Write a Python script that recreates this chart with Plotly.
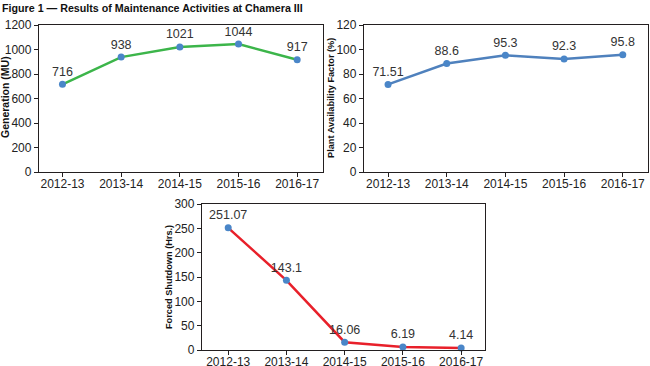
import plotly.graph_objects as go

categories = ["2012-13", "2013-14", "2014-15", "2015-16", "2016-17"]
generation = [716, 938, 1021, 1044, 917]
generation_labels = ["716", "938", "1021", "1044", "917"]
availability = [71.51, 88.6, 95.3, 92.3, 95.8]
availability_labels = ["71.51", "88.6", "95.3", "92.3", "95.8"]
shutdown = [251.07, 143.1, 16.06, 6.19, 4.14]
shutdown_labels = ["251.07", "143.1", "16.06", "6.19", "4.14"]

W, H = 650, 366
marker_color = "#4a86c8"
axis_color = "#231f20"
font_fam = "Liberation Sans, Arial, Helvetica, sans-serif"
bold_fam = "Liberation Sans, Arial, Helvetica, sans-serif"

fig = go.Figure()

def add_series(y, labels, color, xa, ya):
    fig.add_trace(go.Scatter(
        x=categories, y=y, mode="lines+markers+text",
        text=labels, textposition="top center",
        textfont=dict(family=font_fam, size=12.5, color="#333333"),
        line=dict(color=color, width=2.5),
        marker=dict(color=marker_color, size=7),
        xaxis=xa, yaxis=ya, showlegend=False, cliponaxis=False,
        hoverinfo="x+y",
    ))

add_series(generation, generation_labels, "#3cb54a", "x", "y")
add_series(availability, availability_labels, "#4f81bd", "x2", "y2")
add_series(shutdown, shutdown_labels, "#e8202a", "x3", "y3")

def px_x(a, b):
    return [a / W, b / W]

def px_y(top, bottom):
    return [1 - bottom / H, 1 - top / H]

common_x = dict(type="category", showline=True, linecolor=axis_color, linewidth=1.3,
                mirror=True, ticks="outside", ticklen=4, tickcolor=axis_color,
                showgrid=False, zeroline=False, automargin=False,
                ticklabelstandoff=-4,
                tickfont=dict(family=font_fam, size=12, color="#222222"))
common_y = dict(showline=True, linecolor=axis_color, linewidth=1.3, mirror=True,
                ticks="outside", ticklen=4, tickcolor=axis_color, showgrid=False,
                zeroline=False, automargin=False,
                tickfont=dict(family=font_fam, size=12, color="#222222"))

def ytitle(text, xpx, ycenter_px, size):
    return dict(text="<b>" + text + "</b>", x=xpx / W, y=1 - ycenter_px / H,
                xref="paper", yref="paper", xanchor="center", yanchor="middle",
                textangle=-90, showarrow=False,
                font=dict(family=bold_fam, size=size, color="#111111"))

fig.update_layout(
    width=W, height=H, margin=dict(l=0, r=0, t=0, b=0),
    paper_bgcolor="white", plot_bgcolor="white",
    xaxis=dict(domain=px_x(39, 323), range=[-0.4, 4.44], anchor="y", **common_x),
    yaxis=dict(domain=px_y(25, 172), range=[0, 1200], dtick=200, anchor="x", **common_y),
    xaxis2=dict(domain=px_x(364, 648), range=[-0.41, 4.43], anchor="y2", **common_x),
    yaxis2=dict(domain=px_y(25, 172), range=[0, 120], dtick=20, anchor="x2", **common_y),
    xaxis3=dict(domain=px_x(202, 485), range=[-0.45, 4.41], anchor="y3", **common_x),
    yaxis3=dict(domain=px_y(204, 350), range=[0, 300], dtick=50, anchor="x3", **common_y),
    annotations=[
        dict(text="<b>Figure 1 — Results of Maintenance Activities at Chamera III</b>",
             x=0, y=1, xref="paper", yref="paper", xanchor="left", yanchor="top",
             showarrow=False, font=dict(family=bold_fam, size=10.7, color="#111111")),
        ytitle("Generation (MU)", 5, 97, 10.5),
        ytitle("Plant Availability Factor (%)", 331, 98, 9.2),
        ytitle("Forced Shutdown (Hrs.)", 169, 277, 9.2),
    ],
)

fig.write_html("out.html", config={"displayModeBar": False},
               post_script="document.body.style.margin='0px';")
